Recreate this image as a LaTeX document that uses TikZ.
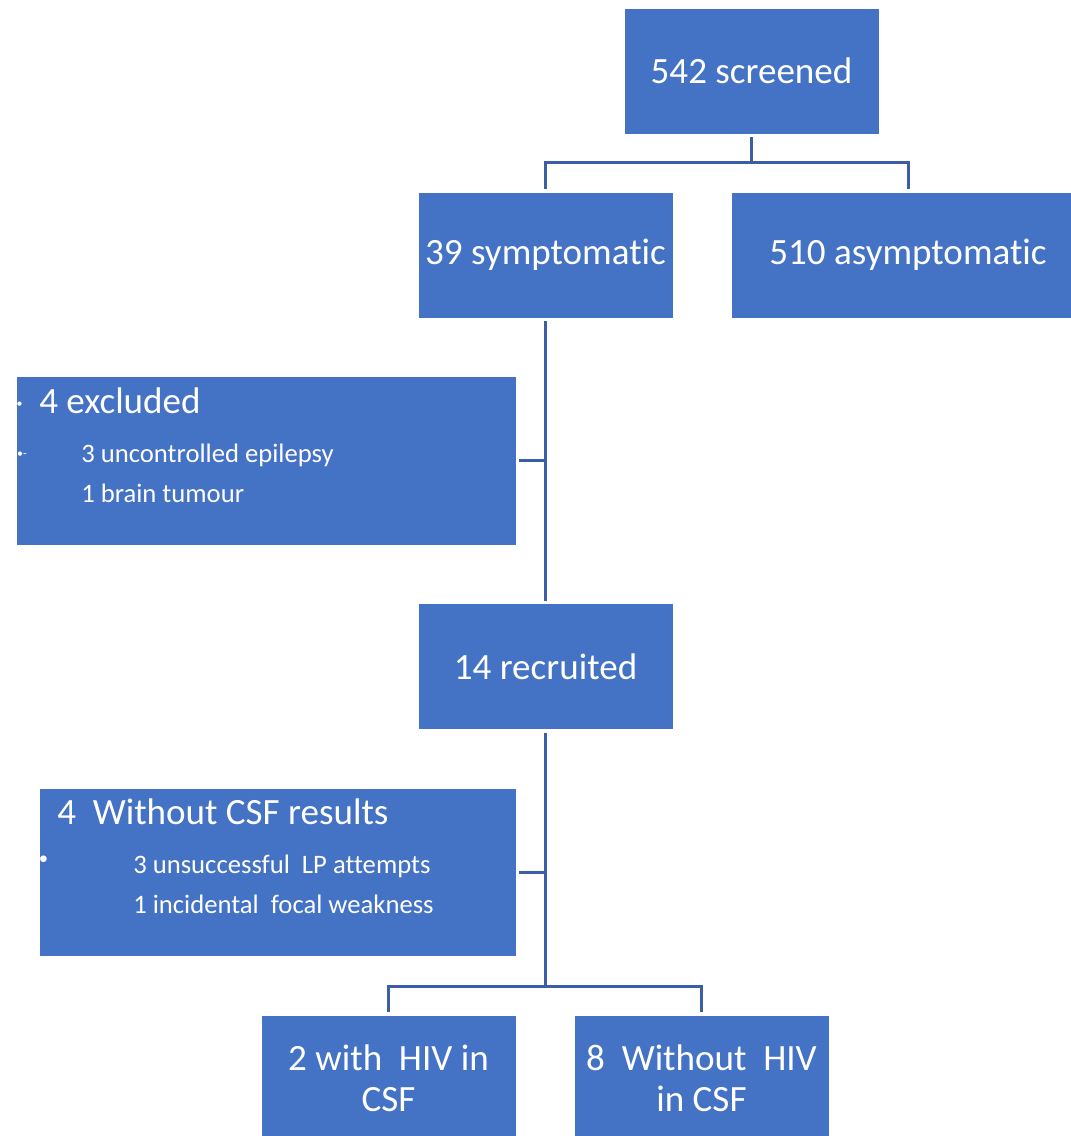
\documentclass[tikz,border=0pt]{standalone}
\usepackage{fontspec}
\setmainfont{Carlito}[Ligatures=NoCommon]
\usetikzlibrary{positioning}
\definecolor{boxblue}{HTML}{4472C4}
\definecolor{lineblue}{HTML}{3B5EA6}

\begin{document}
\begin{tikzpicture}[x=0.75pt,y=-0.75pt,
    box/.style={rectangle,fill=boxblue,draw=white,line width=0.6pt,inner sep=0pt,outer sep=2.25pt,
      text=white,align=center,font=\fontsize{27.8}{30.75}\selectfont,
      minimum width=191.25pt,minimum height=94.5pt},
    big/.style={text=white,inner sep=0pt,font=\fontsize{27.8}{30.75}\selectfont},
    small/.style={text=white,inner sep=0pt,font=\fontsize{20}{24}\selectfont},
    dot/.style={text=white,inner sep=0pt},
    link/.style={draw=lineblue,line width=2.25pt}]
    \useasboundingbox (0,0) rectangle (1071,1136);
    \clip (0,0) rectangle (1071,1136);

    \node[box] (screened) at (751.5,71) {542 screened};
    \node[box] (symp) at (545.5,255) {39 symptomatic};
    \node[box, minimum width=265.5pt] (asymp) at (908,255) {510 asymptomatic};
    \node[box, minimum width=375pt, minimum height=126.75pt] (excl) at (266,460.5) {};
    \node[box] (recr) at (545.5,666.5) {14 recruited};
    \node[box, minimum width=357.75pt, minimum height=126pt] (nocsf) at (277.5,872) {};
    \node[box] (withhiv) at (388.5,1078) {2 with\ \ HIV in\\CSF};
    \node[box] (nohiv) at (701.5,1078) {8\ \ Without\ \ HIV\\in CSF};

    \node[big, anchor=base west] (exclhead) at (39,413) {4 excluded};
    \node[small, anchor=base west] (excla) at (81,462) {3 uncontrolled epilepsy};
    \node[small, anchor=base west] (exclb) at (81,502) {1 brain tumour};
    \node[dot, font=\fontsize{9}{9}\selectfont] (exclbul) at (19.5,405) {\textbullet};
    \node[dot, font=\fontsize{9}{9}\selectfont] (exclbulb) at (22,455) {\textbullet-};

    \node[big, anchor=base west] (csfhead) at (57,824) {4\ \ Without CSF results};
    \node[small, anchor=base west] (csfa) at (133,873) {3 unsuccessful\ \ LP attempts};
    \node[small, anchor=base west] (csfb) at (133,913) {1 incidental\ \ focal weakness};
    \node[dot, font=\fontsize{14}{14}\selectfont] (csfbul) at (43.5,860) {\textbullet};

    \coordinate (split1) at (751.5,162);
    \coordinate (split2) at (545.5,986);
    \draw[link] (screened.south) -- (split1) -| (symp.north);
    \draw[link] (split1) -| (asymp.north);
    \draw[link] (symp.south) -- (recr.north);
    \draw[link] (excl.east) -- (excl.east -| symp.south);
    \draw[link] (recr.south) -- (split2) -| (withhiv.north);
    \draw[link] (split2) -| (nohiv.north);
    \draw[link] (nocsf.east) -- (nocsf.east -| recr.south);
\end{tikzpicture}
\end{document}
